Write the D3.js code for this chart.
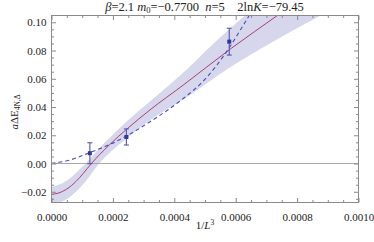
<!DOCTYPE html>
<html><head><meta charset="utf-8">
<script src="https://cdn.jsdelivr.net/npm/d3@7"></script>
<style>
html,body{margin:0;padding:0;background:#fff;}
svg, svg text, svg tspan{font-family:"Liberation Serif","Times New Roman",Times,"DejaVu Serif",serif !important;}
</style></head>
<body>
<svg id="chart" width="374" height="242"></svg>
<script>
// ---- data ----
const xPts = [0.000125, 0.000244, 0.000579];
const yPts = [0.0073, 0.0188, 0.0863];
const yErr = [0.0074, 0.0057, 0.0095];

const fitX = [0, 0.0000245, 0.0000489, 0.0000815, 0.000103, 0.00013, 0.000158, 0.00019, 0.000245, 0.000321, 0.000429, 0.000582, 0.000739, 0.0008];
const fitY = [-0.0218, -0.0208, -0.0182, -0.0123, -0.0071, 0.0, 0.0066, 0.0135, 0.0243, 0.0380, 0.0555, 0.0810, 0.1053, 0.1148];

const bandUpX = [0, 0.0000489, 0.000103, 0.000158, 0.000245, 0.000321, 0.00043, 0.000538, 0.000636, 0.0007];
const bandUpY = [-0.0166, -0.0123, -0.0017, 0.0113, 0.0298, 0.0440, 0.0645, 0.0870, 0.1059, 0.118];
const bandLoX = [0, 0.0000489, 0.000103, 0.000158, 0.000245, 0.000321, 0.00043, 0.000582, 0.000756, 0.000886, 0.001];
const bandLoY = [-0.029, -0.0253, -0.0147, 0.0007, 0.0179, 0.0307, 0.0455, 0.0681, 0.0905, 0.1059, 0.119];

const dashX = [0, 0.00005, 0.000123, 0.00019, 0.000245, 0.000321, 0.00043, 0.000489, 0.000538, 0.000582, 0.000615, 0.000647, 0.00068];
const dashY = [0.0002, 0.0019, 0.0076, 0.0135, 0.0196, 0.0296, 0.0462, 0.0572, 0.0695, 0.0830, 0.0945, 0.1059, 0.118];

const xMajor = [0, 0.0002, 0.0004, 0.0006, 0.0008, 0.001];
const xMajorLabels = ["0.0000", "0.0002", "0.0004", "0.0006", "0.0008", "0.0010"];
const yMajor = [-0.02, 0, 0.02, 0.04, 0.06, 0.08, 0.10];
const yMajorLabels = ["\u22120.02", "0.00", "0.02", "0.04", "0.06", "0.08", "0.10"];

// ---- layout ----
const FONT = '"Liberation Serif","Times New Roman",Times,serif';
const L = 51.5, R = 358.5, T = 15.5, B = 202.5;
const svg = d3.select("#chart");
const x = d3.scaleLinear().domain([0, 0.001]).range([L, R]);
const y = d3.scaleLinear().domain([-0.0276, 0.1048]).range([B, T]);

const xMinor = d3.range(0, 0.0010001, 0.00005).filter(v => !xMajor.some(m => Math.abs(m - v) < 1e-9));
const yMinor = d3.range(-0.025, 0.1049, 0.005).filter(v => !yMajor.some(m => Math.abs(m - v) < 1e-9));

svg.append("defs").append("clipPath").attr("id", "clip")
  .append("rect").attr("x", L).attr("y", T).attr("width", R - L).attr("height", B - T);

const plot = svg.append("g").attr("clip-path", "url(#clip)");

function sample(xs, ys, n) {
  const pts = xs.map((v, i) => [x(v), y(ys[i])]);
  const p = document.createElementNS("http://www.w3.org/2000/svg", "path");
  p.setAttribute("d", d3.line().curve(d3.curveMonotoneX)(pts));
  svg.node().appendChild(p);
  const len = p.getTotalLength();
  const out = [];
  for (let i = 0; i <= n; i++) { const q = p.getPointAtLength(len * i / n); out.push([q.x, q.y]); }
  p.remove();
  return out;
}
const upS = sample(bandUpX, bandUpY, 200);
const loS = sample(bandLoX, bandLoY, 200).reverse();
const poly = upS.concat([[x(0.001), y(0.13)]]).concat(loS);
plot.append("path")
  .attr("d", d3.line()(poly) + "Z")
  .attr("fill", "#d6d6ec").attr("stroke", "none");

// zero line
svg.append("line").attr("x1", L).attr("x2", R).attr("y1", y(0)).attr("y2", y(0))
  .attr("stroke", "#a8a8a8").attr("stroke-width", 1);

// fit line
plot.append("path")
  .attr("d", d3.line().curve(d3.curveMonotoneX)(fitX.map((v, i) => [x(v), y(fitY[i])])))
  .attr("fill", "none").attr("stroke", "#a8426e").attr("stroke-width", 1);

// dashed curve
plot.append("path")
  .attr("d", d3.line().curve(d3.curveMonotoneX)(dashX.map((v, i) => [x(v), y(dashY[i])])))
  .attr("fill", "none").attr("stroke", "#4e4eb0").attr("stroke-width", 1.1)
  .attr("stroke-dasharray", "4,3");

// error bars
const eb = svg.append("g").attr("stroke", "#5656ac").attr("stroke-width", 1.1);
xPts.forEach((v, i) => {
  const cx = x(v), yt = y(yPts[i] + yErr[i]), yb = y(yPts[i] - yErr[i]);
  eb.append("line").attr("x1", cx).attr("x2", cx).attr("y1", yt).attr("y2", yb);
  eb.append("line").attr("x1", cx - 2.5).attr("x2", cx + 2.5).attr("y1", yt).attr("y2", yt);
  eb.append("line").attr("x1", cx - 2.5).attr("x2", cx + 2.5).attr("y1", yb).attr("y2", yb);
});
svg.append("g").selectAll("rect").data(xPts).join("rect")
  .attr("x", (d) => x(d) - 2).attr("y", (d, i) => y(yPts[i]) - 2)
  .attr("width", 4).attr("height", 4).attr("fill", "#3434a0");

// axes (ticks inward)
const axCol = "#8a8a8a";
function styleAxis(g) {
  g.attr("font-family", FONT).attr("font-size", 11);
  g.select(".domain").remove();
  g.selectAll(".tick line").attr("stroke", axCol);
  g.selectAll(".tick text").attr("fill", "#222").attr("font-family", FONT).attr("font-size", 11);
}
svg.append("g").attr("transform", `translate(0,${B})`)
  .call(d3.axisBottom(x).tickValues(xMajor).tickFormat((d, i) => xMajorLabels[i]).tickSize(-4.5).tickPadding(10.5)).call(styleAxis);
svg.append("g").attr("transform", `translate(0,${B})`)
  .call(d3.axisBottom(x).tickValues(xMinor).tickFormat("").tickSize(-2.5)).call(styleAxis);
svg.append("g").attr("transform", `translate(0,${T})`)
  .call(d3.axisTop(x).tickValues(xMajor).tickFormat("").tickSize(-4.5)).call(styleAxis);
svg.append("g").attr("transform", `translate(0,${T})`)
  .call(d3.axisTop(x).tickValues(xMinor).tickFormat("").tickSize(-2.5)).call(styleAxis);
svg.append("g").attr("transform", `translate(${L},0)`)
  .call(d3.axisLeft(y).tickValues(yMajor).tickFormat((d, i) => yMajorLabels[i]).tickSize(-4.5).tickPadding(5)).call(styleAxis);
svg.append("g").attr("transform", `translate(${L},0)`)
  .call(d3.axisLeft(y).tickValues(yMinor).tickFormat("").tickSize(-2.5)).call(styleAxis);
svg.append("g").attr("transform", `translate(${R},0)`)
  .call(d3.axisRight(y).tickValues(yMajor).tickFormat("").tickSize(-4.5)).call(styleAxis);
svg.append("g").attr("transform", `translate(${R},0)`)
  .call(d3.axisRight(y).tickValues(yMinor).tickFormat("").tickSize(-2.5)).call(styleAxis);

// frame
svg.append("rect").attr("x", L).attr("y", T).attr("width", R - L).attr("height", B - T)
  .attr("fill", "none").attr("stroke", axCol).attr("stroke-width", 1);

// title
const title = svg.append("text").attr("x", 204.5).attr("y", 10.5).attr("text-anchor", "middle")
  .attr("font-family", FONT).attr("font-size", 12.5).attr("fill", "#222");
title.append("tspan").attr("font-style", "italic").text("\u03B2");
title.append("tspan").text("=2.1 ");
title.append("tspan").attr("font-style", "italic").text("m");
title.append("tspan").attr("dy", 2.5).attr("font-size", 8.5).text("0");
title.append("tspan").attr("dy", -2.5).text("=\u22120.7700\u00A0\u00A0");
title.append("tspan").attr("font-style", "italic").text("n");
title.append("tspan").text("=5\u00A0\u00A0\u00A0\u00A02ln");
title.append("tspan").attr("font-style", "italic").text("K");
title.append("tspan").text("=\u221279.45");

// x label
const xl = svg.append("text").attr("x", 205).attr("y", 228.5).attr("text-anchor", "middle")
  .attr("font-family", FONT).attr("font-size", 11).attr("fill", "#222");
xl.append("tspan").text("1/");
xl.append("tspan").attr("font-style", "italic").text("L");
xl.append("tspan").attr("dy", -4).attr("font-size", 7.5).text("3");

// y label
const yl = svg.append("text").attr("transform", "translate(17.5,112) rotate(-90)")
  .attr("text-anchor", "middle").attr("font-family", FONT).attr("font-size", 11).attr("fill", "#222");
yl.append("tspan").attr("font-style", "italic").text("a");
yl.append("tspan").text("\u0394E");
yl.append("tspan").attr("dy", 2.5).attr("font-size", 7.5).text("4N,\u0394");
</script>
</body></html>
